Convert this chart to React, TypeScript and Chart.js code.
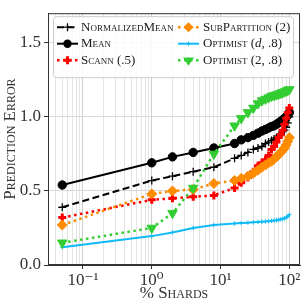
import React, { useEffect, useRef } from 'react';
import { Chart, registerables } from 'chart.js';
Chart.register(...registerables);

const FONT = "'Liberation Serif', 'DejaVu Serif', serif";

const xShards = [0.05, 1, 2, 4, 8, 16, 20, 25, 30, 35, 40, 45, 50, 55, 60, 65, 70, 75, 80, 85, 90, 95, 100];
const normalizedMean = [0.39, 0.57, 0.6, 0.63, 0.66, 0.72, 0.74, 0.76, 0.78, 0.79, 0.8, 0.82, 0.83, 0.84, 0.85, 0.86, 0.87, 0.88, 0.9, 0.91, 0.93, 0.96, 1.0];
const mean = [0.54, 0.69, 0.73, 0.76, 0.79, 0.82, 0.845, 0.86, 0.875, 0.89, 0.905, 0.915, 0.925, 0.935, 0.94, 0.95, 0.96, 0.97, 0.98, 0.99, 1.0, 1.01, 1.03];
const scann = [0.32, 0.44, 0.45, 0.46, 0.47, 0.52, 0.555, 0.59, 0.63, 0.67, 0.69, 0.71, 0.74, 0.78, 0.8, 0.83, 0.86, 0.88, 0.91, 0.95, 0.99, 1.03, 1.06];
const subPartition = [0.27, 0.48, 0.5, 0.51, 0.55, 0.57, 0.585, 0.6, 0.62, 0.64, 0.66, 0.675, 0.69, 0.7, 0.715, 0.73, 0.745, 0.76, 0.775, 0.79, 0.81, 0.835, 0.86];
const optimistD = [0.12, 0.195, 0.22, 0.25, 0.27, 0.28, 0.283, 0.286, 0.288, 0.29, 0.292, 0.294, 0.296, 0.298, 0.3, 0.302, 0.305, 0.308, 0.311, 0.315, 0.32, 0.328, 0.34];
const optimist2 = [0.15, 0.25, 0.35, 0.52, 0.75, 0.94, 0.99, 1.03, 1.06, 1.09, 1.11, 1.12, 1.13, 1.14, 1.145, 1.15, 1.155, 1.16, 1.165, 1.17, 1.175, 1.18, 1.185];

const seriesNames = ['NormalizedMean', 'Mean', 'Scann (.5)', 'SubPartition (2)', 'Optimist (d, .8)', 'Optimist (2, .8)'];
const yTickValues = [0, 0.5, 1.0, 1.5];
const xTickLabels: Record<string, string> = { '0.1': '10\u207B\u00B9', '1': '10\u2070', '10': '10\u00B9', '100': '10\u00B2' };

type Sty = { color: string; dash: number[]; width: number; marker: string; r: number; mw: number; fill: boolean };
const styles: Sty[] = [
  { color: '#000000', dash: [7, 3.5], width: 2, marker: 'cross', r: 4, mw: 1.3, fill: false },
  { color: '#000000', dash: [], width: 2, marker: 'circle', r: 4.2, mw: 1, fill: true },
  { color: '#ff0000', dash: [2.5, 3.5], width: 2.5, marker: 'cross', r: 4, mw: 3, fill: false },
  { color: '#ff8c00', dash: [2.5, 3.5], width: 2.5, marker: 'rectRot', r: 5, mw: 1, fill: true },
  { color: '#0fbaf5', dash: [], width: 2, marker: 'cross', r: 2.2, mw: 1, fill: false },
  { color: '#32cd32', dash: [2.5, 3.5], width: 2.5, marker: 'triangle', r: 5.5, mw: 1, fill: true },
];
const seriesData = [normalizedMean, mean, scann, subPartition, optimistD, optimist2];

function drawMarker(ctx: CanvasRenderingContext2D, s: Sty, x: number, y: number) {
  ctx.save();
  ctx.setLineDash([]);
  ctx.strokeStyle = s.color;
  ctx.fillStyle = s.color;
  ctx.lineWidth = s.mw;
  const r = s.r;
  ctx.beginPath();
  if (s.marker === 'circle') {
    ctx.arc(x, y, r, 0, Math.PI * 2);
    ctx.fill();
  } else if (s.marker === 'cross') {
    ctx.moveTo(x - r, y); ctx.lineTo(x + r, y);
    ctx.moveTo(x, y - r); ctx.lineTo(x, y + r);
    ctx.stroke();
  } else if (s.marker === 'rectRot') {
    ctx.moveTo(x, y - r); ctx.lineTo(x + r, y); ctx.lineTo(x, y + r); ctx.lineTo(x - r, y);
    ctx.closePath(); ctx.fill();
  } else if (s.marker === 'triangle') {
    const h = r * 1.5;
    ctx.moveTo(x - r, y - h / 3); ctx.lineTo(x + r, y - h / 3); ctx.lineTo(x, y + (2 * h) / 3);
    ctx.closePath(); ctx.fill();
  }
  ctx.restore();
}

const frameAndLegend = {
  id: 'frameAndLegend',
  afterDatasetsDraw(chart: any) {
    const ctx: CanvasRenderingContext2D = chart.ctx;
    const a = chart.chartArea;
    ctx.save();
    ctx.strokeStyle = '#333333';
    ctx.lineWidth = 1;
    ctx.strokeRect(a.left + 0.5, a.top + 0.5, a.right - a.left - 1, a.bottom - a.top - 1);

    const bx = a.left + 5, by = a.top + 3, bw = 240, bh = 61;
    ctx.beginPath();
    (ctx as any).roundRect(bx + 0.5, by + 0.5, bw, bh, 3);
    ctx.fillStyle = 'rgba(255,255,255,0.85)';
    ctx.fill();
    ctx.strokeStyle = '#cccccc';
    ctx.stroke();

    const colSample = [a.left + 9, a.left + 130];
    const colText = [a.left + 33, a.left + 155];
    const rowY = [a.top + 14, a.top + 30.5, a.top + 47];
    const size = 13;
    const base = `small-caps ${size}px ${FONT}`;
    seriesNames.forEach((name, i) => {
      const col = Math.floor(i / 3), row = i % 3;
      const s = styles[i];
      const y = rowY[row];
      const x0 = colSample[col];
      ctx.save();
      ctx.strokeStyle = s.color;
      ctx.lineWidth = s.width;
      ctx.setLineDash(s.dash);
      ctx.beginPath();
      ctx.moveTo(x0, y); ctx.lineTo(x0 + 21, y);
      ctx.stroke();
      ctx.restore();
      drawMarker(ctx, s, x0 + 10.5, y);
      ctx.fillStyle = '#1a1a1a';
      ctx.textBaseline = 'middle';
      ctx.textAlign = 'left';
      let tx = colText[col];
      if (name.includes('(d,')) {
        const parts = [['Optimist (', base], ['d', `italic ${size}px ${FONT}`], [', .8)', base]];
        parts.forEach(([t, f]) => {
          ctx.font = f;
          ctx.fillText(t, tx, y);
          tx += ctx.measureText(t).width;
        });
      } else {
        ctx.font = base;
        ctx.fillText(name, tx, y);
      }
    });
    ctx.restore();
  },
};

function buildXTicks() {
  const out: { value: number; major: boolean }[] = [];
  for (let e = -2; e <= 2; e++) {
    for (let m = 1; m <= 9; m++) {
      const v = parseFloat((m * Math.pow(10, e)).toPrecision(3));
      if (v > 0.031 && v < 143) out.push({ value: v, major: m === 1 });
    }
  }
  return out;
}

export default function App() {
  const ref = useRef<HTMLCanvasElement>(null);
  useEffect(() => {
    document.body.style.margin = '0';
    const datasets = seriesNames.map((name, i) => {
      const s = styles[i];
      return {
        label: name,
        data: xShards.map((x, j) => ({ x, y: seriesData[i][j] })),
        borderColor: s.color,
        backgroundColor: s.color,
        borderWidth: s.width,
        borderDash: s.dash,
        pointStyle: s.marker,
        pointRadius: s.r,
        pointBorderWidth: s.mw,
        pointBorderColor: s.color,
        pointBackgroundColor: s.color,
        pointRotation: s.marker === 'triangle' ? 180 : 0,
        tension: 0,
        fill: false,
        order: 6 - i,
      };
    });
    const chart = new Chart(ref.current!, {
      type: 'line',
      data: { datasets: datasets as any },
      plugins: [frameAndLegend],
      options: {
        animation: false,
        responsive: true,
        maintainAspectRatio: false,
        layout: { padding: { top: 2, right: 2, left: 0, bottom: 0 } },
        plugins: { legend: { display: false }, tooltip: { enabled: false } },
        scales: {
          x: {
            type: 'logarithmic',
            min: 0.031,
            max: 143,
            afterBuildTicks: (scale: any) => { scale.ticks = buildXTicks(); },
            afterFit: (scale: any) => { scale.height = 42; },
            ticks: {
              autoSkip: false,
              maxRotation: 0,
              padding: 1,
              color: '#333',
              font: { family: FONT, size: 17 },
              callback: (v: any) => xTickLabels[String(v)] ?? '',
            },
            grid: {
              color: (c: any) => (c.tick && c.tick.major ? '#d0d0d0' : '#e4e4e4'),
              tickColor: (c: any) => (c.tick && c.tick.major ? '#333' : 'rgba(0,0,0,0)'),
              tickLength: 4,
            },
            border: { color: '#333' },
            title: {
              display: true,
              text: '% Shards',
              color: '#333',
              padding: { top: 0, bottom: 3 },
              font: { family: FONT, size: 17, weight: 'small-caps' as any },
            },
          },
          y: {
            type: 'linear',
            min: 0,
            max: 1.7,
            afterBuildTicks: (scale: any) => { scale.ticks = yTickValues.map((v) => ({ value: v })); },
            afterFit: (scale: any) => { scale.width = 48; },
            ticks: {
              padding: 3,
              color: '#333',
              font: { family: FONT, size: 17 },
              callback: (v: any) => Number(v).toFixed(1),
            },
            grid: { color: '#d8d8d8', tickColor: '#333', tickLength: 4 },
            border: { color: '#333' },
            title: {
              display: true,
              text: 'Prediction Error',
              color: '#333',
              padding: { top: 0, bottom: 2 },
              font: { family: FONT, size: 17, weight: 'small-caps' as any },
            },
          },
        },
      },
    });
    return () => chart.destroy();
  }, []);
  return (
    <div style={{ width: 307, height: 307, position: 'relative' }}>
      <canvas ref={ref} />
    </div>
  );
}
